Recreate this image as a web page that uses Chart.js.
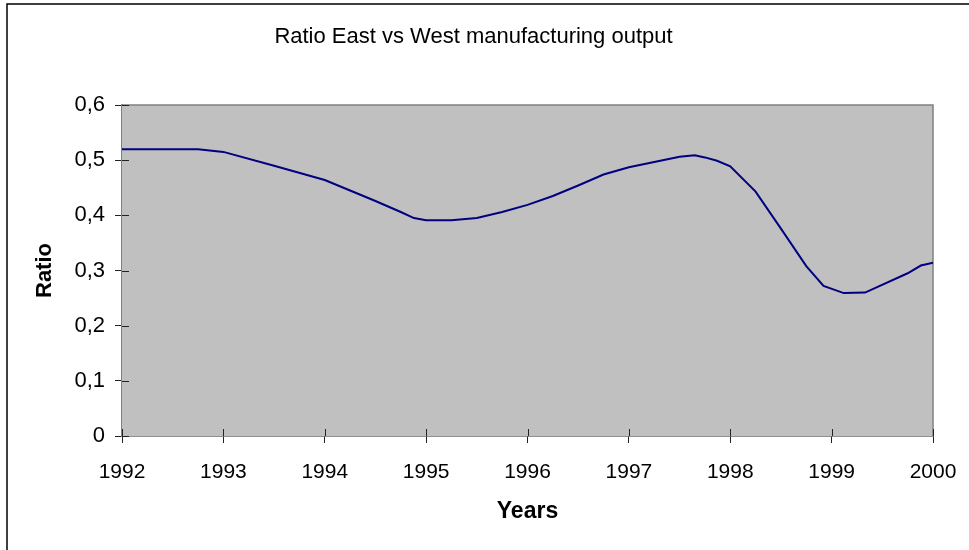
<!DOCTYPE html>
<html>
<head>
<meta charset="utf-8">
<script src="https://cdn.jsdelivr.net/npm/chart.js@4/dist/chart.umd.min.js"></script>
<style>
  html, body { margin: 0; padding: 0; background: #fff; }
  canvas { display: block; }
</style>
</head>
<body>
<canvas id="ratioChart" width="969" height="550"></canvas>
<script>
// Ratio East vs West (year, ratio)
const years = [1992, 1992.75, 1993, 1993.5, 1994, 1994.5, 1994.75, 1994.88, 1995, 1995.25,
  1995.5, 1995.75, 1996, 1996.25, 1996.5, 1996.75, 1997, 1997.5, 1997.65, 1997.75,
  1997.87, 1998, 1998.25, 1998.5, 1998.75, 1998.92, 1999.12, 1999.33, 1999.75, 1999.88, 2000];
const ratios = [0.52, 0.52, 0.515, 0.49, 0.464, 0.426, 0.406, 0.395, 0.391, 0.391,
  0.395, 0.406, 0.419, 0.435, 0.454, 0.474, 0.487, 0.506, 0.509, 0.505,
  0.499, 0.489, 0.443, 0.376, 0.308, 0.272, 0.259, 0.26, 0.295, 0.309, 0.314];
const yearTicks = [1992, 1993, 1994, 1995, 1996, 1997, 1998, 1999, 2000];

const FONT = "'Liberation Sans', Arial, sans-serif";

// fond gris + bordure du graphique
const plotBackground = {
  id: 'plotBackground',
  beforeDraw(chart) {
    const ctx = chart.ctx;
    ctx.save();
    ctx.strokeStyle = '#000';
    ctx.lineWidth = 1.5;
    ctx.beginPath();
    ctx.moveTo(7, 550);
    ctx.lineTo(7, 4);
    ctx.lineTo(969, 4);
    ctx.stroke();
    ctx.restore();
  },
  beforeDatasetsDraw(chart) {
    const {ctx, chartArea: a} = chart;
    ctx.save();
    ctx.fillStyle = '#c0c0c0';
    ctx.fillRect(a.left, a.top, a.right - a.left, a.bottom - a.top);
    ctx.strokeStyle = '#808080';
    ctx.lineWidth = 1.5;
    ctx.beginPath();
    ctx.moveTo(a.left, a.top);
    ctx.lineTo(a.right, a.top);
    ctx.lineTo(a.right, a.bottom);
    ctx.stroke();
    ctx.restore();
  },
  afterDatasetsDraw(chart) {
    // petits traits vers l'intérieur
    const {ctx, chartArea: a, scales} = chart;
    ctx.save();
    ctx.strokeStyle = '#222';
    ctx.lineWidth = 1;
    ctx.beginPath();
    scales.y.ticks.forEach(t => {
      const py = Math.round(scales.y.getPixelForValue(t.value)) + 0.5;
      ctx.moveTo(a.left, py);
      ctx.lineTo(a.left + 7, py);
    });
    scales.x.ticks.forEach(t => {
      const px = Math.round(scales.x.getPixelForValue(t.value)) + 0.5;
      ctx.moveTo(px, a.bottom);
      ctx.lineTo(px, a.bottom - 7);
    });
    ctx.stroke();
    ctx.restore();
  }
};

const ctx = document.getElementById('ratioChart').getContext('2d');
new Chart(ctx, {
  type: 'line',
  data: {
    datasets: [{
      data: years.map((y, i) => ({x: y, y: ratios[i]})),
      borderColor: '#000080',
      borderWidth: 2,
      pointRadius: 0,
      tension: 0,
      fill: false
    }]
  },
  options: {
    responsive: false,
    animation: false,
    layout: { padding: { left: 0, right: 22, top: 0, bottom: 0 } },
    plugins: {
      legend: { display: false },
      tooltip: { enabled: false },
      title: {
        display: true,
        text: 'Ratio East vs West manufacturing output',
        color: '#000',
        font: { family: FONT, size: 22, weight: 'normal' },
        padding: { top: 23.8, bottom: 54.8 }
      }
    },
    scales: {
      x: {
        type: 'linear',
        min: 1992,
        max: 2000,
        afterBuildTicks: s => { s.ticks = yearTicks.map(v => ({value: v})); },
        afterFit: s => { s.height = 114; s.paddingLeft = 0; s.paddingRight = 0; },
        grid: { drawOnChartArea: false, tickLength: 7, color: '#222' },
        border: { color: '#222', width: 1.5 },
        ticks: {
          color: '#000',
          font: { family: FONT, size: 21 },
          padding: 17,
          maxRotation: 0,
          callback: v => String(v)
        },
        title: {
          display: true,
          text: 'Years',
          color: '#000',
          font: { family: FONT, size: 23, weight: 'bold' },
          padding: { top: 0, bottom: 25 }
        }
      },
      y: {
        min: 0,
        max: 0.6,
        afterFit: s => { s.width = 122; s.paddingTop = 0; s.paddingBottom = 0; },
        grid: { drawOnChartArea: false, tickLength: 7, color: '#222' },
        border: { color: '#808080', width: 2 },
        ticks: {
          stepSize: 0.1,
          color: '#000',
          font: { family: FONT, size: 22 },
          padding: 10,
          callback: v => v === 0 ? '0' : v.toFixed(1).replace('.', ',')
        },
        title: {
          display: true,
          text: 'Ratio',
          color: '#000',
          font: { family: FONT, size: 22, weight: 'bold' },
          padding: { top: 32, bottom: 0 }
        }
      },
      yRight: {
        position: 'right',
        display: true,
        afterFit: s => { s.width = 14; s.paddingTop = 0; s.paddingBottom = 0; },
        grid: { display: false },
        border: { display: false },
        ticks: { display: false }
      }
    }
  },
  plugins: [plotBackground]
});
</script>
</body>
</html>
